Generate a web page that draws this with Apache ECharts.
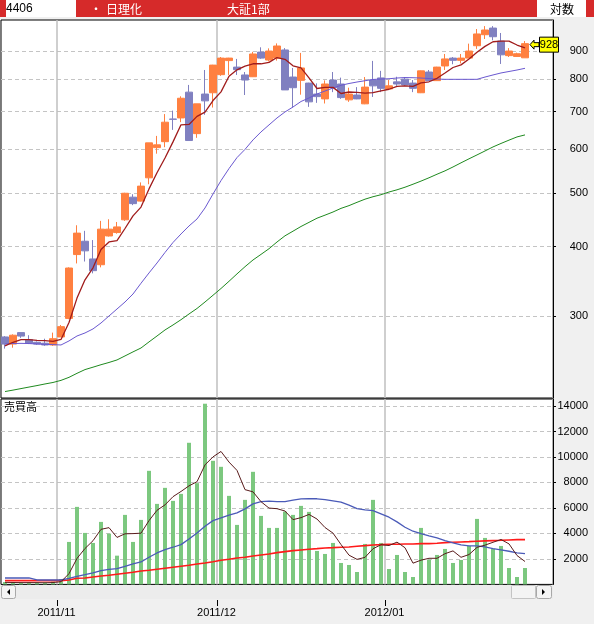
<!DOCTYPE html>
<html><head><meta charset="utf-8">
<script src="https://cdn.jsdelivr.net/npm/echarts@6/dist/echarts.min.js"></script>
<style>html,body{margin:0;padding:0;background:#f0f0f0;overflow:hidden}#c{width:594px;height:624px}</style>
</head><body><div id="c"></div>
<script>
// ---------- data ----------
const dates = [
 '2011/10/21','2011/10/24','2011/10/25','2011/10/26','2011/10/27','2011/10/28','2011/10/31',
 '2011/11/01','2011/11/02','2011/11/04','2011/11/07','2011/11/08','2011/11/09','2011/11/10','2011/11/11',
 '2011/11/14','2011/11/15','2011/11/16','2011/11/17','2011/11/18','2011/11/21','2011/11/22','2011/11/24',
 '2011/11/25','2011/11/28','2011/11/29','2011/11/30',
 '2011/12/01','2011/12/02','2011/12/05','2011/12/06','2011/12/07','2011/12/08','2011/12/09','2011/12/12',
 '2011/12/13','2011/12/14','2011/12/15','2011/12/16','2011/12/19','2011/12/20','2011/12/21','2011/12/22',
 '2011/12/26','2011/12/27','2011/12/28','2011/12/29','2011/12/30',
 '2012/01/04','2012/01/05','2012/01/06','2012/01/10','2012/01/11','2012/01/12','2012/01/13','2012/01/16',
 '2012/01/17','2012/01/18','2012/01/19','2012/01/20','2012/01/23','2012/01/24','2012/01/25','2012/01/26',
 '2012/01/27','2012/01/30'];
const emptySlots = ['2012/01/31','2012/02/01','2012/02/02'];
// [open, close, low, high]
const ohlc = [
 [275,267,262,276],[267,277,263,278],[280,276,274,280],[272,268,267,277],[269,267,266,270],
 [268,266,265,273],[266,273,265,280],[275,287,275,289],[297,366,296,367],[387,423,373,437],
 [409,393,376,427],[380,362,358,411],[371,430,367,445],[418,430,417,448],[424,434,422,443],
 [447,499,445,500],[491,478,475,497],[483,514,482,522],[532,615,518,615],[603,610,588,633],
 [618,670,604,693],[679,678,649,703],[682,740,670,746],[759,621,620,782],[639,723,628,723],
 [753,732,691,832],[757,849,712,850],[816,874,812,878],[865,874,815,875],[842,833,815,871],
 [815,798,750,825],[809,889,808,897],[896,874,871,914],[867,900,862,910],[874,919,865,929],
 [904,766,766,911],[808,773,712,839],[797,839,751,893],[788,729,714,789],[753,745,726,787],
 [738,785,724,797],[798,773,759,825],[785,742,738,806],[735,753,729,773],[750,738,737,775],
 [723,775,722,808],[798,779,744,864],[805,771,759,829],[769,779,768,798],[792,785,779,809],
 [801,782,779,808],[788,771,759,798],[757,829,756,830],[825,796,795,832],[796,842,795,843],
 [846,871,832,889],[874,866,852,878],[866,874,855,889],[874,900,874,928],[920,966,908,986],
 [963,982,946,998],[990,955,941,998],[938,886,853,970],[883,900,878,911],[880,890,878,894],
 [875,928,875,938]];
const priceMA5 = [265,269,272,272,271.1,270.8,270.1,272.2,291.9,323.1,348.6,366.3,395.1,407.8,410,
 431.2,454.4,471.2,508.1,543.3,577.5,617.5,662.7,663.8,686.3,698.7,732.9,759.8,810.6,832.6,845.7,
 853.7,853.7,858.8,876,869.7,846.5,839.4,805.3,770.5,774.1,774.1,754.7,759.4,758,756.1,757.2,763,
 768.1,777.6,778.8,777.2,788.8,792.3,803.7,821.5,840.6,849.8,870.7,895.4,917.6,935.4,937.8,937.8,
 922.7,911.9];
const priceMA25 = [267.1,267.6,267.8,267.6,267.1,266.8,266.4,266,270.5,276.1,279.6,284.3,291.4,300,
 308.8,317.9,328.6,343.6,358.6,373.7,390.4,406.9,421.5,435.7,448.5,469.5,497.5,525.9,552.8,578.6,
 598.6,622.5,643.5,662.5,681.9,699.1,713.6,730.1,740.8,753.1,762.5,772.1,780.8,786.6,791.5,795.7,
 800,801.3,802.3,804.7,806.3,805.7,804.7,803,801.4,800.4,800.4,800.4,800.4,800.4,808,815,821.8,
 826.8,831.9,837.8];
const priceMA75 = [219.3,220.6,222,223.4,224.8,226.3,227.7,229.7,232.6,236.5,240.2,242.6,245.1,247.4,
 250,254.2,258.5,262.7,269.4,276.1,283.1,289,295.4,302.5,309.5,317.9,326.9,336.2,346.4,357.2,368,
 378.4,387.3,396.5,407.7,418.3,426.4,434.8,442.3,450,455.7,461.7,468.7,474.1,480.6,486.9,491.9,496,
 501.6,506.2,511.7,518.1,524.8,532.1,540,547.6,556.5,566.1,575.6,585,594.7,604.7,613.5,622,630.3,
 635.6];
const volume = [190,130,120,150,110,140,212,424,3333,6084,4040,3254,4905,3985,2256,5455,3333,5062,
 8913,6319,7577,6555,7105,11114,7946,14179,9699,9228,6948,4669,6634,8835,5376,4433,4433,5714,5455,
 6162,5691,2625,2389,3254,1682,1525,975,3175,6634,3254,1210,2311,975,582,4433,1943,2311,2783,1682,
 1918,3018,5140,3647,2806,3018,1289,582,1289];
const volMA5 = [160,150,140,140,140,130,146,207,844,2039,2819,3427,4323,4454,3688,3971,3987,4018,
 5004,5816,6241,6885,7294,7734,8059,9380,10009,10433,9600,8945,7436,7263,6492,5989,5942,5758,5082,
 5239,5491,5129,4464,4024,3128,2295,1965,2122,2798,3113,3050,3317,2877,1666,1902,2049,2049,2410,
 2630,2127,2342,2908,3081,3306,3526,3180,2268,1797];
const volMA25 = [503,503,503,503,346,346,346,346,479,637,762,896,1077,1187,1234,1423,1603,1761,2130,
 2468,2727,2916,3120,3568,4040,4567,5007,5219,5431,5612,5926,6319,6500,6532,6500,6500,6610,6712,
 6720,6720,6657,6555,6453,6217,5950,5848,5793,5533,5274,4905,4488,4174,3985,3804,3647,3435,3254,
 3097,3018,3018,2940,2806,2704,2602,2468,2413];
const volMA75 = [300,300,300,300,300,300,300,300,346,479,503,582,660,715,794,872,951,1053,1108,1187,
 1265,1344,1423,1501,1603,1682,1784,1894,1973,2075,2130,2232,2311,2389,2492,2570,2649,2704,2759,
 2806,2861,2885,2916,2940,2995,3042,3097,3120,3152,3152,3175,3175,3199,3199,3230,3278,3309,3333,
 3356,3388,3412,3435,3459,3490,3513,3513];
const priceTicks = [300,400,500,600,700,800,900];
const volumeTicks = [2000,4000,6000,8000,10000,12000,14000];
const lastPrice = 928;
const headerCode = '4406', headerName = '日理化', headerMarket = '大証1部', headerScale = '対数', volTitle = '売買高';

// ---------- chart ----------
const categories = dates.concat(emptySlots);
const monthStart = categories.map((d, i) => i > 0 && i < dates.length && d.slice(0, 7) !== categories[i - 1].slice(0, 7));
const isMonth = (i) => !!monthStart[i];
const chart = echarts.init(document.getElementById('c'), null, {renderer: 'canvas'});
const FONT = 'Liberation Sans';
const CJK = 'Noto Sans CJK JP';

function hiddenX(gi) {
  return {type: 'category', gridIndex: gi, data: categories, boundaryGap: true,
    axisLine: {show: false}, axisTick: {show: false}, axisLabel: {show: false},
    splitLine: {show: true, interval: isMonth, lineStyle: {color: '#bfbfbf', width: 1.5}}};
}
const dash = {color: '#c4c4c4', width: 1, type: [4, 3]};

const option = {
  animation: false,
  backgroundColor: '#f0f0f0',
  grid: [
    {left: 1, top: 20, width: 552, height: 378, show: true, backgroundColor: '#fff', borderColor: '#000', borderWidth: 1},
    {left: 1, top: 399, width: 552, height: 185.4, show: true, backgroundColor: '#fff', borderColor: '#000', borderWidth: 1},
    {left: 1, top: 599, width: 552, height: 1, show: false}
  ],
  xAxis: [
    hiddenX(0), hiddenX(1),
    {type: 'category', gridIndex: 2, data: categories, boundaryGap: true, position: 'bottom',
      axisLine: {show: false},
      axisTick: {show: true, interval: isMonth, length: 6, lineStyle: {color: '#000'}},
      axisLabel: {show: true, interval: isMonth, formatter: v => v.slice(0, 7), margin: 7,
        fontSize: 11, fontFamily: FONT, color: '#000', padding: [0, 9, 0, 0]},
      splitLine: {show: false}}
  ],
  yAxis: [
    {type: 'log', logBase: 10, gridIndex: 0, position: 'right', min: 213.5, max: 1023.6,
      axisLine: {show: true, lineStyle: {color: '#000'}},
      axisTick: {show: true, length: 3, customValues: priceTicks, lineStyle: {color: '#000'}},
      axisLabel: {customValues: priceTicks, formatter: v => String(v), align: 'right', margin: 35, fontSize: 11, fontFamily: FONT, color: '#000'},
      splitLine: {show: true, lineStyle: dash}},
    {type: 'value', gridIndex: 1, position: 'right', min: 0, max: 14550,
      axisLine: {show: true, lineStyle: {color: '#000'}},
      axisTick: {show: true, length: 3, customValues: volumeTicks, lineStyle: {color: '#000'}},
      axisLabel: {customValues: volumeTicks, formatter: v => String(Math.round(v)), align: 'right', margin: 35, fontSize: 11, fontFamily: FONT, color: '#000'},
      splitLine: {show: true, lineStyle: dash}},
    {type: 'value', gridIndex: 2, show: false, min: 0, max: 1}
  ],
  series: [
    {type: 'candlestick', xAxisIndex: 0, yAxisIndex: 0, data: ohlc, barWidth: 7, z: 3,
      itemStyle: {color: '#ff8040', color0: '#8080c0', borderColor: '#ff8040', borderColor0: '#8080c0', borderWidth: 1}},
    {type: 'line', xAxisIndex: 0, yAxisIndex: 0, data: priceMA75, symbol: 'none', z: 4,
      lineStyle: {color: '#1f8a1f', width: 1}},
    {type: 'line', xAxisIndex: 0, yAxisIndex: 0, data: priceMA25, symbol: 'none', z: 4,
      lineStyle: {color: '#6a58d0', width: 1}},
    {type: 'line', xAxisIndex: 0, yAxisIndex: 0, data: priceMA5, symbol: 'none', z: 5,
      lineStyle: {color: '#a01c1c', width: 1.3}},
    {type: 'bar', xAxisIndex: 1, yAxisIndex: 1, data: volume, barWidth: 4, z: 3,
      itemStyle: {color: '#7cc87f'}},
    {type: 'line', xAxisIndex: 1, yAxisIndex: 1, data: volMA75, symbol: 'none', z: 4,
      lineStyle: {color: '#ff1a1a', width: 1.6}},
    {type: 'line', xAxisIndex: 1, yAxisIndex: 1, data: volMA25, symbol: 'none', z: 4,
      lineStyle: {color: '#4a5ab8', width: 1.3}},
    {type: 'line', xAxisIndex: 1, yAxisIndex: 1, data: volMA5, symbol: 'none', z: 5,
      lineStyle: {color: '#5a1c1c', width: 1}}
  ]
};
chart.setOption(option);

// ---------- decorations ----------
const p = chart.convertToPixel({gridIndex: 0}, [dates.length - 1, lastPrice]);
const ax = p[0] + 5, ay = p[1] + 1;
const txt = (x, y, s, extra) => Object.assign({type: 'text', x, y, z: 100,
  style: Object.assign({text: s, fontSize: 12, fontFamily: CJK, fill: '#000', verticalAlign: 'middle'}, extra || {})});
chart.setOption({graphic: [
  {type: 'rect', shape: {x: 0, y: 0, width: 594, height: 17}, style: {fill: '#d62a2a'}, z: 90},
  {type: 'rect', shape: {x: 6, y: 0, width: 70, height: 17}, style: {fill: '#fff'}, z: 91},
  {type: 'rect', shape: {x: 537, y: 0, width: 49, height: 17}, style: {fill: '#fff'}, z: 91},
  txt(6, 9, headerCode, {fontFamily: FONT, fontSize: 12}),
  txt(90, 9, '・', {fill: '#fff'}),
  txt(106, 9, headerName, {fill: '#fff'}),
  txt(227, 9, headerMarket, {fill: '#fff'}),
  txt(562, 9, headerScale, {align: 'center'}),
  txt(4, 407, volTitle, {fontSize: 11}),
  // scrollbar
  {type: 'rect', shape: {x: 1, y: 585, width: 552, height: 14}, style: {fill: '#ececec'}, z: 90},
  {type: 'rect', shape: {x: 1.5, y: 585.5, width: 14, height: 13, r: 2}, style: {fill: '#f4f4f4', stroke: '#a8a8a8'}, z: 91},
  {type: 'polygon', shape: {points: [[10, 589], [10, 595], [7, 592]]}, style: {fill: '#000'}, z: 92},
  {type: 'rect', shape: {x: 511.5, y: 585.5, width: 24, height: 13, r: 1}, style: {fill: '#f4f4f4', stroke: '#c4c4c4'}, z: 91},
  {type: 'rect', shape: {x: 536.5, y: 585.5, width: 15, height: 13, r: 2}, style: {fill: '#f4f4f4', stroke: '#a8a8a8'}, z: 91},
  {type: 'polygon', shape: {points: [[542, 589], [542, 595], [545, 592]]}, style: {fill: '#000'}, z: 92},
  // hide the closing boundary tick of the date axis
  {type: 'rect', shape: {x: 549, y: 599.5, width: 8, height: 8}, style: {fill: '#f0f0f0'}, z: 92},
  // last price marker
  {type: 'polygon', z: 95, shape: {points: [[ax, ay], [ax + 4, ay - 4.5], [ax + 4, ay - 2], [ax + 9, ay - 2], [ax + 9, ay + 2], [ax + 4, ay + 2], [ax + 4, ay + 4.5]]},
    style: {fill: '#ffff00', stroke: '#000', lineWidth: 1}},
  {type: 'rect', z: 95, shape: {x: ax + 9.5, y: ay - 7.5, width: 19, height: 15}, style: {fill: '#ffff00', stroke: '#000', lineWidth: 1}},
  txt(ax + 19, ay, String(lastPrice), {align: 'center', fontFamily: FONT, fontSize: 11, z: 96})
]});
</script></body></html>
